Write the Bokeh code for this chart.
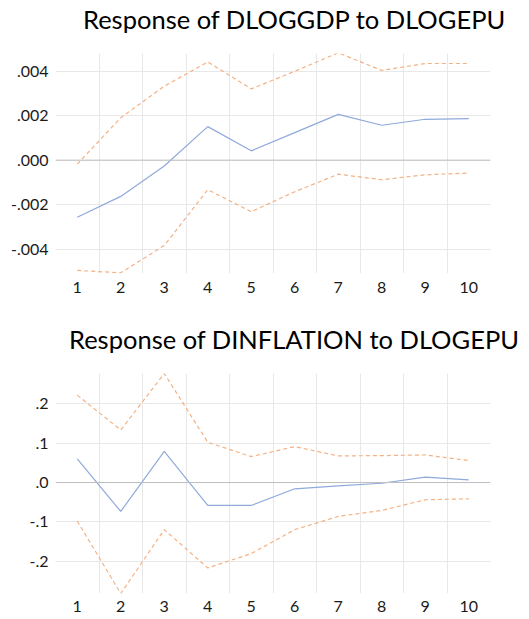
from bokeh.plotting import figure
from bokeh.layouts import column
from bokeh.models import FixedTicker, Span, Range1d, Title
from bokeh.embed import file_html
from bokeh.resources import INLINE

periods = [1, 2, 3, 4, 5, 6, 7, 8, 9, 10]

gdp_title = "Response of DLOGGDP to DLOGEPU"
gdp_resp = [-0.00257, -0.00163, -0.00026, 0.00151, 0.00042, 0.00124, 0.00206, 0.00157, 0.00184, 0.00187]
gdp_upper = [-0.00018, 0.00191, 0.00333, 0.00442, 0.00321, 0.00400, 0.00483, 0.00404, 0.00435, 0.00435]
gdp_lower = [-0.00496, -0.00507, -0.00384, -0.00133, -0.00232, -0.00142, -0.00063, -0.00088, -0.00066, -0.00058]
gdp_ticks = [-0.004, -0.002, 0.0, 0.002, 0.004]
gdp_tick_labels = ["-.004", "-.002", ".000", ".002", ".004"]

inf_title = "Response of DINFLATION to DLOGEPU"
inf_resp = [0.060, -0.0736, 0.0795, -0.0584, -0.0584, -0.016, -0.0085, -0.0018, 0.0135, 0.0068]
inf_upper = [0.2225, 0.1337, 0.2775, 0.1024, 0.066, 0.0914, 0.0677, 0.0685, 0.0702, 0.0558]
inf_lower = [-0.098, -0.2825, -0.120, -0.2174, -0.181, -0.120, -0.0863, -0.071, -0.044, -0.0414]
inf_ticks = [-0.2, -0.1, 0.0, 0.1, 0.2]
inf_tick_labels = ["-.2", "-.1", ".0", ".1", ".2"]

BLUE = "#8faadc"
ORANGE = "#f4b183"
FONT = "Lato"


def make_panel(title, resp, upper, lower, y_start, y_end, ticks, labels,
               border_top, border_bottom, title_offset, x_standoff):
    p = figure(frame_width=435, frame_height=220,
               x_range=Range1d(0.5, 10.5), y_range=Range1d(y_start, y_end),
               output_backend="svg", toolbar_location=None,
               min_border_left=55, min_border_right=35,
               min_border_top=border_top, min_border_bottom=border_bottom)
    # spacer between the frame and the title
    p.add_layout(Title(text=" ", text_font=FONT, text_font_size="10px",
                       standoff=3.5), "above")
    p.add_layout(Title(text=title, text_font=FONT, text_font_size="25.5px",
                       text_font_style="normal", text_color="#000000",
                       align="left", offset=title_offset,
                       vertical_align="top", standoff=0), "above")
    p.outline_line_color = None
    p.background_fill_color = "white"
    p.border_fill_color = "white"

    p.xaxis.ticker = FixedTicker(ticks=periods)
    p.yaxis.ticker = FixedTicker(ticks=ticks)
    p.yaxis.major_label_overrides = {t: l for t, l in zip(ticks, labels)}
    for ax in (p.xaxis[0], p.yaxis[0]):
        ax.axis_line_color = None
        ax.major_tick_line_color = None
        ax.minor_tick_line_color = None
        ax.major_tick_out = 0
        ax.major_tick_in = 0
        ax.minor_tick_out = 0
        ax.minor_tick_in = 0
        ax.major_label_text_font = FONT
        ax.major_label_text_font_size = "16px"
        ax.major_label_text_color = "#1a1a1a"
    p.xaxis.major_label_standoff = x_standoff
    p.yaxis.major_label_standoff = 7

    p.xgrid.ticker = FixedTicker(ticks=[c + 0.5 for c in periods[:-1]])
    p.xgrid.grid_line_color = "#e8e8e8"
    p.ygrid.grid_line_color = "#e8e8e8"

    p.add_layout(Span(location=0, dimension="width", line_color="#bfbfbf", line_width=1))

    p.line(periods, upper, line_color=ORANGE, line_width=1.2, line_dash="4 3")
    p.line(periods, lower, line_color=ORANGE, line_width=1.2, line_dash="4 3")
    p.line(periods, resp, line_color=BLUE, line_width=1.2)
    return p


p1 = make_panel(gdp_title, gdp_resp, gdp_upper, gdp_lower, -0.0051, 0.0048,
                gdp_ticks, gdp_tick_labels, 53, 27, 27.5, 8)
p2 = make_panel(inf_title, inf_resp, inf_upper, inf_lower, -0.2825, 0.2775,
                inf_ticks, inf_tick_labels, 73, 26, 13.5, 7)

layout = column(p1, p2, spacing=0)
open("out.html", "w").write(file_html(layout, INLINE))
